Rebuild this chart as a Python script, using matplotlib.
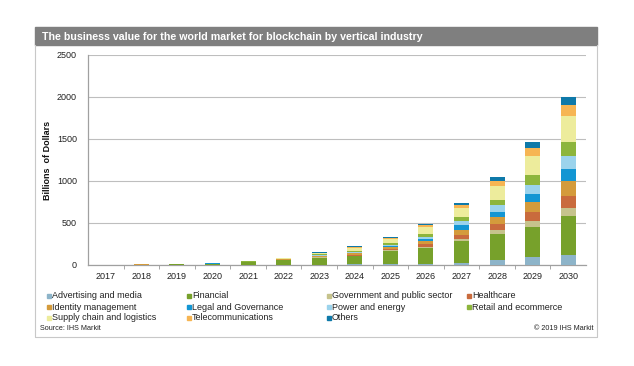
import numpy as np
import matplotlib
matplotlib.use("Agg")
import matplotlib.pyplot as plt
from matplotlib.patches import Rectangle
from matplotlib.lines import Line2D

plt.rcParams['font.family'] = ['Liberation Sans', 'DejaVu Sans']

# Data (billions of dollars)
years = ['2017', '2018', '2019', '2020', '2021', '2022', '2023', '2024',
         '2025', '2026', '2027', '2028', '2029', '2030']
industries = ['Advertising and media', 'Financial', 'Government and public sector',
              'Healthcare', 'Identity management', 'Legal and Governance',
              'Power and energy', 'Retail and ecommerce', 'Supply chain and logistics',
              'Telecommunications', 'Others']
advertising = [2, 3, 2, 2, 2, 3, 5, 8, 12, 16, 28, 60, 91, 120]
financial = [1, 2, 5, 12, 30, 55, 80, 95, 155, 183, 258, 310, 365, 460]
government = [0.4, 0.5, 1, 1, 1, 2, 5, 8, 12, 16, 24, 48, 64, 104]
healthcare = [0.2, 0.3, 0.5, 1, 2, 4, 8, 12, 16, 32, 48, 71, 107, 136]
identity = [0.2, 0.3, 0.5, 1, 2, 4, 10, 16, 24, 40, 64, 79, 127, 180]
legal = [0.6, 1, 1, 1, 1, 2, 5, 8, 12, 28, 52, 67, 91, 140]
power = [0.2, 0.3, 0.5, 1, 3, 3, 5, 8, 12, 24, 44, 75, 111, 160]
retail = [0.1, 0.2, 0.5, 1, 1, 4, 8, 12, 16, 28, 48, 67, 119, 164]
supply = [0.1, 0.2, 0.5, 1, 1, 5, 16, 36, 48, 87, 107, 159, 226, 308]
telecom = [0.1, 0.1, 0.25, 0.5, 1, 1, 4, 12, 12, 24, 40, 60, 91, 132]
others = [0.1, 0.1, 0.25, 0.5, 1, 2, 4, 12, 16, 16, 28, 48, 67, 100]

series = [advertising, financial, government, healthcare, identity, legal,
          power, retail, supply, telecom, others]
colors = ['#8DB4C9', '#77A12B', '#C6C38C', '#C96B3D', '#D49B3C', '#1396D3',
          '#9BD3EC', '#8DB53C', '#EDEC9C', '#F6B553', '#0E79A9']

W, H = 634, 366
fig = plt.figure(figsize=(W / 100, H / 100), dpi=100)

def fx(x):
    return x / W

def fy(y):
    return 1 - y / H

# title bar and frame
fig.patches.append(Rectangle((fx(35), fy(45)), fx(597) - fx(35), fy(27) - fy(45),
                             transform=fig.transFigure, color='#7F7F7F', zorder=0))
fig.text(fx(42), fy(36.5), 'The business value for the world market for blockchain by vertical industry',
         color='white', fontsize=7.7, fontweight='bold', va='center', ha='left')
frame = Line2D([fx(35), fx(35), fx(597), fx(597)], [fy(45), fy(337), fy(337), fy(45)],
               transform=fig.transFigure, color='#C8C8C8', lw=0.8)
fig.lines.append(frame)

ax = fig.add_axes([fx(88), fy(265), fx(586) - fx(88), fy(55) - fy(265)])
x = np.arange(len(years))
bottom = np.zeros(len(years))
for vals, col, name in zip(series, colors, industries):
    ax.bar(x, vals, width=0.42, bottom=bottom, color=col, label=name, zorder=3)
    bottom += np.array(vals)

ax.set_xlim(-0.5, len(years) - 0.5)
ax.set_ylim(0, 2500)
ax.set_yticks(range(0, 2501, 500))
ax.yaxis.grid(True, color='#BEBEBE', lw=0.8, zorder=0)
ax.set_axisbelow(True)
ax.set_xticks(x)
ax.set_xticklabels(years)
ax.set_xticks(x[:-1] + 0.5, minor=True)
ax.tick_params(axis='x', which='major', length=0, labelsize=6.5, colors='#222222', pad=5)
ax.tick_params(axis='x', which='minor', length=3, color='#999999', direction='out')
ax.tick_params(axis='y', length=0, labelsize=6.5, colors='#222222', pad=8)
for s in ['top', 'right']:
    ax.spines[s].set_visible(False)
for s in ['left', 'bottom']:
    ax.spines[s].set_color('#A0A0A0')
    ax.spines[s].set_linewidth(0.9)

fig.text(fx(47), fy(160), 'Billions  of Dollars', fontsize=6.5, fontweight='bold',
         rotation=90, va='center', ha='center', color='#111111')

# legend laid out row by row in 4 columns
col_x = [47, 187, 327, 467]
row_y = [296, 307, 318]
for i, (name, col) in enumerate(zip(industries, colors)):
    cx = col_x[i % 4]
    ry = row_y[i // 4]
    fig.patches.append(Rectangle((fx(cx), fy(ry + 2)), fx(4), 4 / H,
                                 transform=fig.transFigure, color=col))
    fig.text(fx(cx + 5), fy(ry), name, fontsize=6.5, va='center', ha='left', color='#222222')

fig.text(fx(40), fy(328), 'Source: IHS Markit', fontsize=5.2, va='center', ha='left', color='#222222')
fig.text(fx(593), fy(328), '\u00a9 2019 IHS Markit', fontsize=5.2, va='center', ha='right', color='#222222')

fig.savefig('out.png', dpi=100, facecolor='white')
